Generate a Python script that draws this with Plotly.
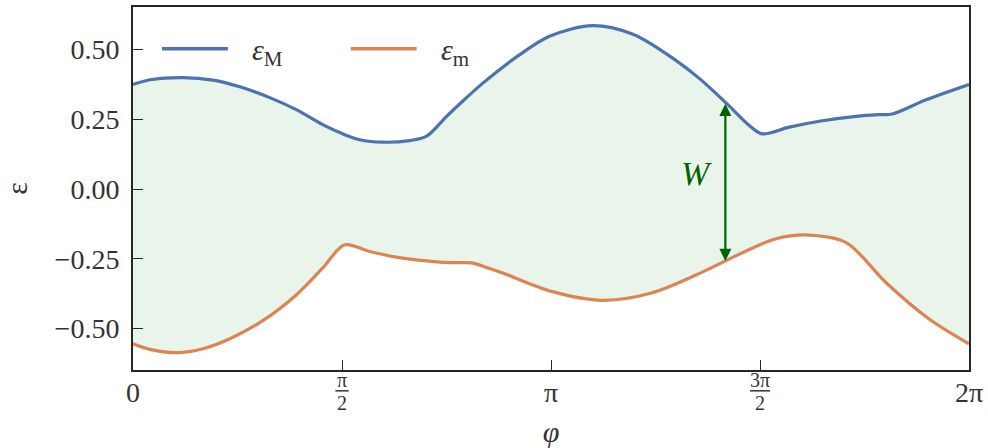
import numpy as np
import plotly.graph_objects as go

# upper band edge eps_M(phi)
phi_M = [0.000, 0.128, 0.375, 0.601, 0.803, 1.028, 1.231, 1.426, 1.576, 1.704,
         1.877, 2.079, 2.207, 2.357, 2.455, 2.627, 2.883, 3.130, 3.453, 3.753,
         4.009, 4.256, 4.459, 4.632, 4.729, 4.932, 5.180, 5.435, 5.600, 5.705, 5.960, 6.283]
eps_M = [0.375, 0.392, 0.400, 0.391, 0.367, 0.328, 0.284, 0.231, 0.198, 0.177,
         0.168, 0.174, 0.190, 0.261, 0.305, 0.379, 0.474, 0.548, 0.586, 0.556,
         0.485, 0.397, 0.308, 0.228, 0.198, 0.222, 0.245, 0.261, 0.267, 0.269, 0.320, 0.375]

# lower band edge eps_m(phi)
phi_m = [0.000, 0.128, 0.330, 0.525, 0.728, 0.976, 1.231, 1.426, 1.591, 1.779,
         2.027, 2.282, 2.440, 2.545, 2.680, 2.778, 3.153, 3.528, 3.904, 4.279, 4.459,
         4.654, 4.834, 5.082, 5.360, 5.660, 5.983, 6.283]
eps_m = [-0.555, -0.575, -0.587, -0.573, -0.537, -0.472, -0.378, -0.283, -0.200, -0.224,
         -0.248, -0.261, -0.264, -0.265, -0.285, -0.301, -0.368, -0.399, -0.372, -0.298, -0.256,
         -0.212, -0.178, -0.165, -0.192, -0.336, -0.466, -0.555]

x_ticks = [0, np.pi / 2, np.pi, 3 * np.pi / 2, 2 * np.pi]
x_ticktext = ["0", "", "π", "", "2π"]
frac_ticks = [(np.pi / 2, "π", "2"), (3 * np.pi / 2, "3π", "2")]
y_ticks = [-0.5, -0.25, 0.0, 0.25, 0.5]

# where the width arrow W is drawn
w_phi = 4.452

BLUE = "#4c72b0"
ORANGE = "#dd8452"
GREEN = "#006400"
INK = "#262626"
TXT = "#333333"
FONT = "Liberation Serif"

fig = go.Figure()

# lower edge first so the upper one can fill down to it
fig.add_trace(go.Scatter(
    x=phi_m, y=eps_m, mode="lines", name="ε_m", showlegend=False,
    line=dict(color=ORANGE, width=3.2, shape="spline", smoothing=0.9),
))
fig.add_trace(go.Scatter(
    x=phi_M, y=eps_M, mode="lines", name="ε_M", showlegend=False,
    line=dict(color=BLUE, width=3.2, shape="spline", smoothing=0.9),
    fill="tonexty", fillcolor="rgba(85,168,104,0.13)",
))

w_top = float(np.interp(w_phi, phi_M, eps_M))
w_bot = float(np.interp(w_phi, phi_m, eps_m))

annotations = [
    dict(x=w_phi, y=w_bot, ax=w_phi, ay=w_top, xref="x", yref="y",
         axref="x", ayref="y", text="", showarrow=True,
         arrowhead=2, startarrowhead=2, arrowside="end+start",
         arrowsize=1.1, startarrowsize=1.1, arrowwidth=2.2, arrowcolor=GREEN),
    dict(x=w_phi, y=(w_top + w_bot) / 2, xref="x", yref="y", text="<i>W</i>",
         showarrow=False, xanchor="right", xshift=-11, yshift=8,
         font=dict(family=FONT, size=34, color=GREEN)),
]
shapes = []

# hand-drawn legend (long line samples, like the original)
plot_w, plot_h = 837, 366
for x0, col, label in [(162, BLUE, "<i>ε</i><sub>M</sub>"), (351, ORANGE, "<i>ε</i><sub>m</sub>")]:
    shapes.append(dict(type="line", xref="paper", yref="paper",
                       x0=(x0 - 133) / plot_w, x1=(x0 + 66 - 133) / plot_w,
                       y0=(371 - 47) / plot_h, y1=(371 - 47) / plot_h,
                       line=dict(color=col, width=3.5)))
    annotations.append(dict(x=(x0 + 88 - 133) / plot_w, y=(371 - 50) / plot_h,
                            xref="paper", yref="paper", text=label, showarrow=False,
                            xanchor="left", yanchor="middle",
                            font=dict(family=FONT, size=30, color=TXT)))

# stacked fraction tick labels for pi/2 and 3pi/2
for xv, num, den in frac_ticks:
    annotations.append(dict(x=xv, y=0, xref="x", yref="paper", text=num,
                            showarrow=False, yanchor="middle", yshift=-10,
                            font=dict(family=FONT, size=20, color=TXT)))
    annotations.append(dict(x=xv, y=0, xref="x", yref="paper", text=den,
                            showarrow=False, yanchor="middle", yshift=-33,
                            font=dict(family=FONT, size=20, color=TXT)))
    half = 0.05 if num == "π" else 0.075
    shapes.append(dict(type="line", xref="x", yref="paper",
                       x0=xv - half, x1=xv + half, y0=-21 / plot_h, y1=-21 / plot_h,
                       line=dict(color=TXT, width=1.5)))

fig.update_layout(
    width=988, height=448,
    margin=dict(l=133, r=18, t=5, b=77),
    plot_bgcolor="white", paper_bgcolor="white",
    font=dict(family=FONT, size=28, color=TXT),
    showlegend=False,
    annotations=annotations,
    shapes=shapes,
)
fig.update_xaxes(
    range=[0, 2 * np.pi], tickvals=x_ticks, ticktext=x_ticktext,
    ticks="inside", ticklen=10, tickwidth=1.3, tickcolor=INK,
    showline=True, linecolor=INK, linewidth=2, mirror=True,
    showgrid=False, zeroline=False, ticklabelstandoff=-4,
    title=dict(text="<i>φ</i>", font=dict(size=30), standoff=14),
)
fig.update_yaxes(
    range=[-0.649, 0.653], tickvals=y_ticks, tickformat=".2f",
    ticks="inside", ticklen=10, tickwidth=1.3, tickcolor=INK,
    showline=True, linecolor=INK, linewidth=2, mirror=True,
    showgrid=False, zeroline=False, ticklabelstandoff=6,
    title=dict(text="ε", font=dict(size=30), standoff=20),
)

# drop the default page margin so the figure sits at the window's corner
fig.write_html("out.html", config={"displayModeBar": False},
               post_script="document.body.style.margin='0';")
